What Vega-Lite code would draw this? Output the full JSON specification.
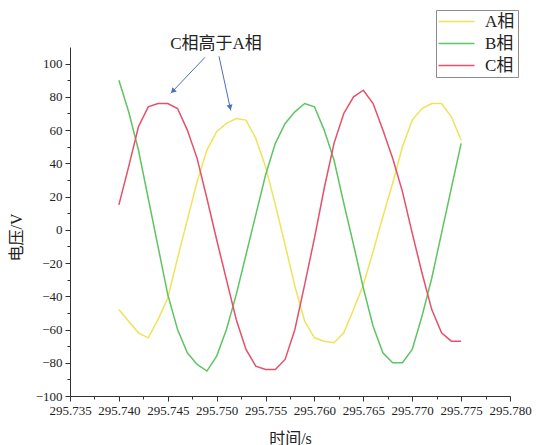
{
  "$schema": "https://vega.github.io/schema/vega-lite/v6.json",
  "width": 440,
  "height": 349,
  "autosize": {"type": "none"},
  "padding": {"left": 70, "top": 47, "right": 28, "bottom": 49},
  "background": "white",
  "config": {
    "view": {"stroke": null},
    "font": "Liberation Serif",
    "axis": {"grid": false, "domainColor": "#333", "tickColor": "#333", "labelColor": "#222", "titleColor": "#222", "labelFont": "Liberation Serif", "labelFontSize": 13, "labelFlush": false, "labelOverlap": false, "labelBound": false}
  },
  "resolve": {"axis": {"x": "independent", "y": "independent"}},
  "layer": [
    {
      "data": {"values": [
        {"t": 295.740, "A相": -48, "B相": 90, "C相": 15},
        {"t": 295.741, "A相": -55, "B相": 71, "C相": 38},
        {"t": 295.742, "A相": -62, "B相": 48, "C相": 62},
        {"t": 295.743, "A相": -65, "B相": 19, "C相": 74},
        {"t": 295.744, "A相": -54, "B相": -10, "C相": 76},
        {"t": 295.745, "A相": -41, "B相": -39, "C相": 76},
        {"t": 295.746, "A相": -17, "B相": -60, "C相": 73},
        {"t": 295.747, "A相": 6, "B相": -74, "C相": 60},
        {"t": 295.748, "A相": 29, "B相": -81, "C相": 43},
        {"t": 295.749, "A相": 48, "B相": -85, "C相": 19},
        {"t": 295.750, "A相": 59, "B相": -76, "C相": -6},
        {"t": 295.751, "A相": 64, "B相": -60, "C相": -30},
        {"t": 295.752, "A相": 67, "B相": -39, "C相": -54},
        {"t": 295.753, "A相": 66, "B相": -15, "C相": -72},
        {"t": 295.754, "A相": 55, "B相": 9, "C相": -82},
        {"t": 295.755, "A相": 38, "B相": 33, "C相": -84},
        {"t": 295.756, "A相": 15, "B相": 52, "C相": -84},
        {"t": 295.757, "A相": -9, "B相": 64, "C相": -78},
        {"t": 295.758, "A相": -34, "B相": 71, "C相": -60},
        {"t": 295.759, "A相": -55, "B相": 76, "C相": -33},
        {"t": 295.760, "A相": -65, "B相": 74, "C相": -5},
        {"t": 295.761, "A相": -67, "B相": 60, "C相": 25},
        {"t": 295.762, "A相": -68, "B相": 42, "C相": 52},
        {"t": 295.763, "A相": -62, "B相": 16, "C相": 70},
        {"t": 295.764, "A相": -48, "B相": -9, "C相": 80},
        {"t": 295.765, "A相": -33, "B相": -35, "C相": 84},
        {"t": 295.766, "A相": -13, "B相": -58, "C相": 76},
        {"t": 295.767, "A相": 8, "B相": -74, "C相": 60},
        {"t": 295.768, "A相": 28, "B相": -80, "C相": 43},
        {"t": 295.769, "A相": 50, "B相": -80, "C相": 23},
        {"t": 295.770, "A相": 66, "B相": -72, "C相": -2},
        {"t": 295.771, "A相": 73, "B相": -52, "C相": -26},
        {"t": 295.772, "A相": 76, "B相": -29, "C相": -48},
        {"t": 295.773, "A相": 76, "B相": -2, "C相": -62},
        {"t": 295.774, "A相": 68, "B相": 25, "C相": -67},
        {"t": 295.775, "A相": 54, "B相": 52, "C相": -67}
      ]},
      "transform": [{"fold": ["A相", "B相", "C相"], "as": ["phase", "v"]}],
      "resolve": {"axis": {"x": "independent", "y": "independent"}},
      "layer": [
        {
          "mark": {"type": "line", "strokeWidth": 1.5},
          "encoding": {
            "x": {"field": "t", "type": "quantitative",
              "scale": {"domain": [295.735, 295.780], "nice": false, "zero": false},
              "axis": {"orient": "bottom", "values": [295.735, 295.740, 295.745, 295.750, 295.755, 295.760, 295.765, 295.770, 295.775, 295.780], "format": ".3f", "tickSize": 5, "labelPadding": 3, "labelFont": "Liberation Serif", "labelFontSize": 13, "title": "时间/s", "titleFont": "Liberation Serif, Noto Sans CJK SC", "titleFontSize": 16, "titleFontWeight": "normal", "titleY": 42, "titleBaseline": "middle"}},
            "y": {"field": "v", "type": "quantitative",
              "scale": {"domain": [-100, 110], "nice": false, "zero": false},
              "axis": {"orient": "left", "values": [-100, -80, -60, -40, -20, 0, 20, 40, 60, 80, 100], "tickSize": 5, "labelPadding": 3, "labelFont": "Liberation Serif", "labelFontSize": 13, "title": "电压/V", "titleFont": "Liberation Serif, Noto Sans CJK SC", "titleFontSize": 16, "titleFontWeight": "normal", "titleX": -54, "titleY": 190, "titleAngle": -90, "titleAlign": "center", "titleBaseline": "middle"}},
            "color": {"field": "phase", "type": "nominal",
              "scale": {"domain": ["A相", "B相", "C相"], "range": ["#efe35a", "#5fc463", "#e5506a"]},
              "legend": {"orient": "none", "legendX": 366, "legendY": -37, "title": null, "strokeColor": "#8c8c8c", "fillColor": "white", "padding": 3, "symbolType": "M-1.5,0L4.5,0", "symbolSize": 144, "symbolStrokeWidth": 1.5, "labelFont": "Liberation Serif, Noto Sans CJK SC", "labelFontSize": 17, "labelColor": "#222", "labelOffset": 29, "rowPadding": 4}}
          }
        },
        {
          "mark": {"type": "line", "strokeWidth": 0, "opacity": 0},
          "encoding": {
            "x": {"field": "t", "type": "quantitative",
              "axis": {"orient": "bottom", "values": [295.7375, 295.7425, 295.7475, 295.7525, 295.7575, 295.7625, 295.7675, 295.7725, 295.7775], "tickSize": 3, "labels": false, "domain": false, "title": null}},
            "y": {"field": "v", "type": "quantitative",
              "axis": {"orient": "left", "values": [-90, -70, -50, -30, -10, 10, 30, 50, 70, 90], "tickSize": 3, "labels": false, "domain": false, "title": null}},
            "detail": {"field": "phase"}
          }
        }
      ]
    },
    {
      "data": {"values": [{"t": 295.74993, "v": 111.6, "label": "C相高于A相"}]},
      "mark": {"type": "text", "font": "Liberation Serif, Noto Sans CJK SC", "fontSize": 17, "color": "#222", "align": "center", "baseline": "middle"},
      "encoding": {
        "x": {"field": "t", "type": "quantitative", "axis": null},
        "y": {"field": "v", "type": "quantitative", "axis": null},
        "text": {"field": "label"}
      }
    },
    {
      "data": {"values": [
        {"t": 295.74881, "v": 103.8, "t2": 295.74530, "v2": 82.1},
        {"t": 295.75024, "v": 104.4, "t2": 295.75144, "v2": 71.8}
      ]},
      "mark": {"type": "rule", "color": "#4a6fc0", "strokeWidth": 1},
      "encoding": {
        "x": {"field": "t", "type": "quantitative", "axis": null},
        "y": {"field": "v", "type": "quantitative", "axis": null},
        "x2": {"field": "t2"},
        "y2": {"field": "v2"}
      }
    },
    {
      "data": {"values": [{"t": 295.745514, "v": 83.4}]},
      "mark": {"type": "point", "shape": "triangle-up", "filled": true, "color": "#4a6fc0", "size": 36, "angle": 223.6, "opacity": 1},
      "encoding": {
        "x": {"field": "t", "type": "quantitative", "axis": null},
        "y": {"field": "v", "type": "quantitative", "axis": null}
      }
    },
    {
      "data": {"values": [{"t": 295.751374, "v": 73.6}]},
      "mark": {"type": "point", "shape": "triangle-up", "filled": true, "color": "#4a6fc0", "size": 36, "angle": 167.8, "opacity": 1},
      "encoding": {
        "x": {"field": "t", "type": "quantitative", "axis": null},
        "y": {"field": "v", "type": "quantitative", "axis": null}
      }
    }
  ]
}
